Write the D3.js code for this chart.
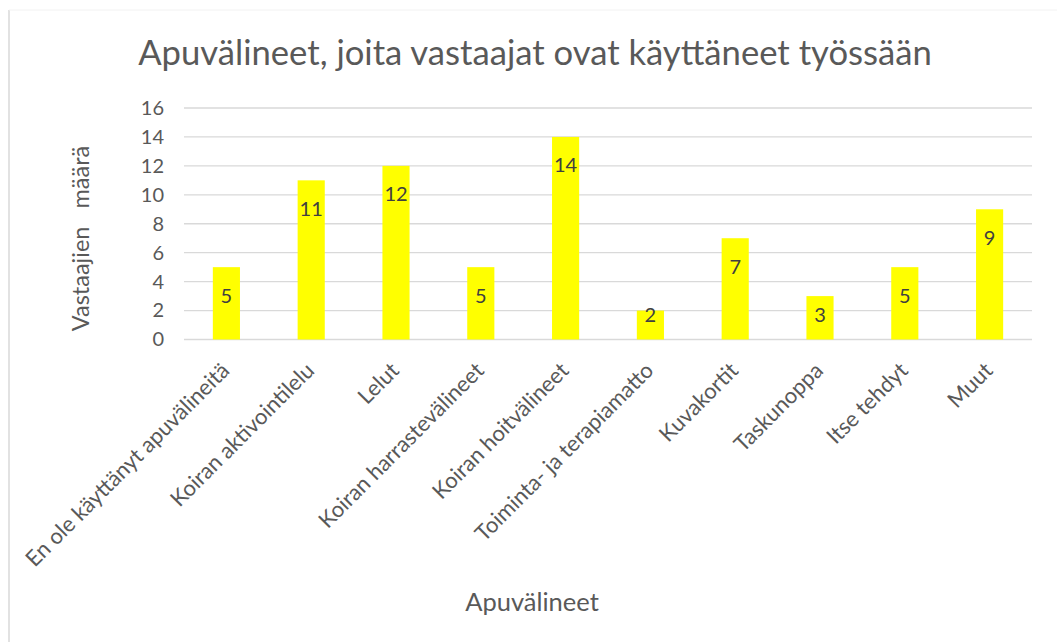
<!DOCTYPE html>
<html>
<head>
<meta charset="utf-8">
<script src="https://cdn.jsdelivr.net/npm/d3@7"></script>
<style>
  body { margin: 0; background: #fff; }
  svg { display: block; font-family: Lato, "Open Sans", sans-serif; }
</style>
</head>
<body>
<svg id="chart"></svg>
<script>
var categories = ["En ole käyttänyt apuvälineitä", "Koiran aktivointilelu", "Lelut",
    "Koiran harrastevälineet", "Koiran hoitvälineet", "Toiminta- ja terapiamatto",
    "Kuvakortit", "Taskunoppa", "Itse tehdyt", "Muut"];
var counts = [5, 11, 12, 5, 14, 2, 7, 3, 5, 9];
var yTicks = [0, 2, 4, 6, 8, 10, 12, 14, 16];

var chartTitle = "Apuvälineet, joita vastaajat ovat käyttäneet työssään";
var xTitle = "Apuvälineet";
var yTitle = "Vastaajien\u00a0\u00a0\u00a0määrä";

var W = 1057, H = 642;
var svg = d3.select("#chart").attr("width", W).attr("height", H);

var plotLeft = 184, plotRight = 1032, plotTop = 108, plotBottom = 339.5;

var xScale = d3.scaleBand().domain(categories).range([plotLeft, plotRight])
        .paddingInner(0.68).paddingOuter(0.34),
    yScale = d3.scaleLinear().domain([0, 16]).range([plotBottom, plotTop]);

// frame
svg.append("line").attr("x1", 9).attr("x2", 9).attr("y1", 10).attr("y2", H)
    .attr("stroke", "#d9d9d9").attr("stroke-width", 1.5);
svg.append("line").attr("x1", 9).attr("x2", W).attr("y1", 10).attr("y2", 10)
    .attr("stroke", "#f2f2f2").attr("stroke-width", 1);

// gridlines
svg.append("g").selectAll("line")
    .data(yTicks)
    .enter().append("line")
    .attr("x1", plotLeft).attr("x2", plotRight)
    .attr("y1", function(d) { return yScale(d); })
    .attr("y2", function(d) { return yScale(d); })
    .attr("stroke", "#d9d9d9").attr("stroke-width", 1.3);

// y axis labels
var yAxis = svg.append("g")
    .attr("transform", "translate(" + 172 + ",0)")
    .call(d3.axisLeft(yScale).tickValues(yTicks).tickSize(0).tickPadding(8));
yAxis.select(".domain").remove();
yAxis.selectAll("text").attr("font-size", 20).attr("fill", "#595959")
    .attr("font-family", "Lato, sans-serif");

// bars
svg.selectAll(".bar")
    .data(counts)
    .enter().append("rect")
    .attr("class", "bar")
    .attr("x", function(d, i) { return xScale(categories[i]); })
    .attr("y", function(d) { return yScale(d); })
    .attr("width", xScale.bandwidth())
    .attr("height", function(d) { return plotBottom - yScale(d); })
    .attr("fill", "#ffff00");

// value labels
svg.selectAll(".val")
    .data(counts)
    .enter().append("text")
    .attr("class", "val")
    .attr("x", function(d, i) { return xScale(categories[i]) + xScale.bandwidth() / 2; })
    .attr("y", function(d) { return Math.min(yScale(d) + 28.5, plotBottom - 25); })
    .attr("dy", "0.35em")
    .attr("text-anchor", "middle")
    .attr("font-size", 20)
    .attr("fill", "#404040")
    .text(function(d) { return d; });

// x axis category labels
svg.append("g").selectAll("text")
    .data(categories)
    .enter().append("text")
    .attr("transform", function(d) {
        var cx = xScale(d) + xScale.bandwidth() / 2;
        return "translate(" + (cx - 1) + "," + (plotBottom + 27) + ") rotate(-45)";
    })
    .attr("dy", "0.35em")
    .attr("text-anchor", "end")
    .attr("font-size", 22)
    .attr("fill", "#595959")
    .text(function(d) { return d; });

// titles
var t = svg.append("text")
    .attr("x", 535).attr("y", 65)
    .attr("text-anchor", "middle")
    .attr("font-size", 33)
    .attr("fill", "#595959")
    .text(chartTitle);
var tw = t.node().getComputedTextLength();
t.attr("font-size", 33 * 794 / tw);

svg.append("text")
    .attr("x", 532).attr("y", 611)
    .attr("text-anchor", "middle")
    .attr("font-size", 25.5)
    .attr("fill", "#595959")
    .text(xTitle);

svg.append("text")
    .attr("transform", "translate(" + 89 + "," + 238.5 + ") rotate(-90)")
    .attr("text-anchor", "middle")
    .attr("font-size", 23.5)
    .attr("fill", "#595959")
    .text(yTitle);
</script>
</body>
</html>
